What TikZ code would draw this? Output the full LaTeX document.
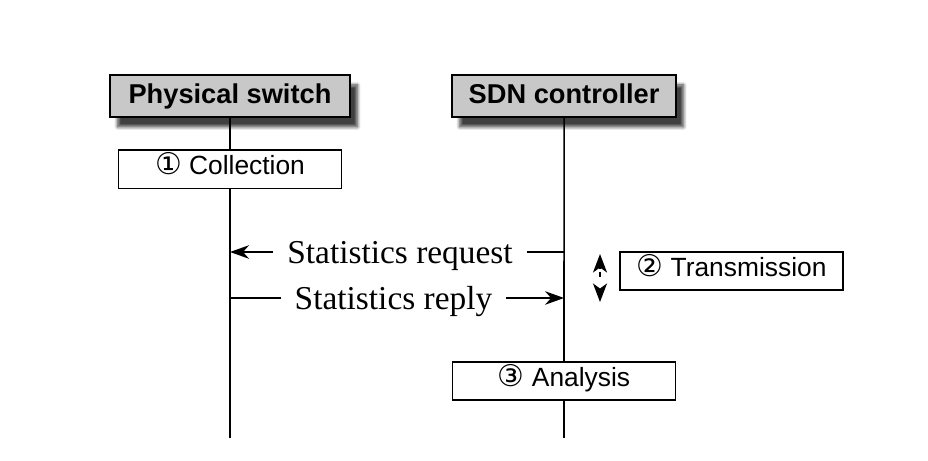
\documentclass[tikz,border=0pt]{standalone}
\usepackage{fontspec}
\setmainfont{Liberation Serif}
\setsansfont{Liberation Sans}
\newfontfamily\circfont{DejaVu Sans}
\newcommand{\circnum}[1]{{\circfont\fontsize{17}{18}\selectfont #1}}
\usetikzlibrary{arrows.meta, positioning, shadows.blur}
\definecolor{headgray}{RGB}{200, 200, 200}

\begin{document}
\begin{tikzpicture}[
    node distance=0.63cm and 2.01cm,
    head/.style={rectangle, draw=black, fill=headgray, line width=0.9pt, minimum height=0.84cm, inner sep=0pt, text height=0.5cm, text depth=0.19cm, font=\sffamily\bfseries\fontsize{15.5}{18}\selectfont, blur shadow={shadow xshift=0.15cm, shadow yshift=-0.2cm, shadow blur steps=8, shadow opacity=75}},
    phase/.style={rectangle, draw=black, fill=white, line width=0.9pt, minimum width=4.46cm, minimum height=0.77cm, inner sep=0pt, text height=0.44cm, text depth=0.24cm, font=\sffamily\fontsize{15}{18}\selectfont},
    msg/.style={inner xsep=0.27cm, inner ysep=0pt, text height=0.64cm, text depth=0.2cm, font=\fontsize{19}{22}\selectfont},
    lifeline/.style={line width=0.9pt},
    arrow/.style={-{Stealth[length=0.38cm, width=0.27cm, inset=0.12cm]}, line width=0.9pt},
    twoway/.style={{Stealth[length=0.37cm, width=0.28cm, inset=0.1cm]}-{Stealth[length=0.37cm, width=0.28cm, inset=0.1cm]}, line width=0.9pt, dash pattern=on 0.05cm off 0.05cm on 0.1cm off 2cm}
]
    \useasboundingbox (0,0) rectangle (18.56,9.2);

    % participants
    \node[head, minimum width=4.8cm] (ps) at (4.6,7.28) {Physical switch};
    \node[head, minimum width=4.48cm, right=2.01cm of ps] (sdn) {SDN controller};

    % phases
    \node[phase, below=0.63cm of ps] (collect) {\circnum{①} Collection};
    \node[phase] (trans) at (14.63,3.78) {\circnum{②} Transmission};
    \node[phase] (analysis) at (11.28,1.58) {\circnum{③} Analysis};

    \coordinate (psend) at (4.6,0.44);
    \coordinate (sdnend) at (11.28,0.44);
    \coordinate (tup) at (12.0,4.12);
    \coordinate (tdown) at (12.0,3.16);

    % messages
    \node[msg] (req) at (8.0,4.16) {Statistics request};
    \node[msg] (rep) at (7.87,3.24) {Statistics reply};

    \draw[lifeline] (ps.south) -- (collect.north);
    \draw[lifeline] (collect.south) -- (psend);
    \draw[lifeline] (sdn.south) -- (analysis.north);
    \draw[lifeline] (analysis.south) -- (sdnend);

    \draw[arrow] (req.west) -- (req.west -| ps);
    \draw[lifeline] (req.east) -- (req.east -| sdn);
    \draw[lifeline] (rep.west) -- (rep.west -| ps);
    \draw[arrow] (rep.east) -- (rep.east -| sdn);
    \draw[twoway] (tup) -- (tdown);
\end{tikzpicture}
\end{document}
